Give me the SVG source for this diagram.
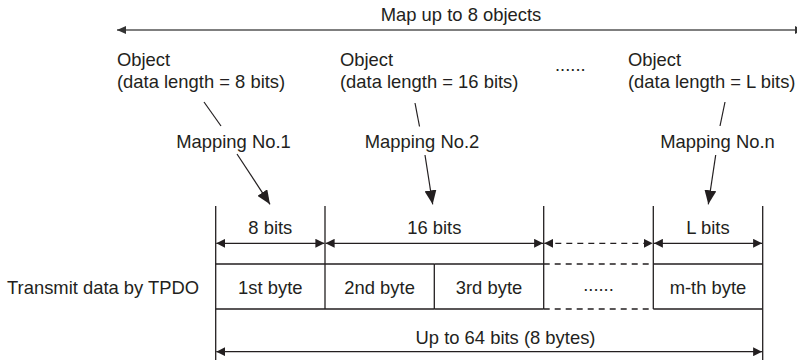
<svg xmlns="http://www.w3.org/2000/svg" width="797" height="360" viewBox="0 0 797 360">
<style>
text{font-family:"Liberation Sans",Arial,sans-serif;font-size:18.4px;fill:#231f20}
.m{text-anchor:middle}
.ln{stroke:#231f20;stroke-width:1.3;fill:none}
.dim{stroke:#231f20;stroke-width:1.2;fill:none}
.dash{stroke-dasharray:6 5}
.top{stroke:#555;stroke-width:1.6;fill:none}
</style>
<defs>
<marker id="ah" markerUnits="userSpaceOnUse" markerWidth="9" markerHeight="9" refX="8" refY="4" orient="auto-start-reverse" viewBox="0 0 8 8"><path d="M0,0 L8,4 L0,8 z" fill="#231f20"/></marker>
<marker id="ahg" markerUnits="userSpaceOnUse" markerWidth="9" markerHeight="9" refX="8" refY="3.5" orient="auto-start-reverse" viewBox="0 0 8 7"><path d="M0,0 L8,3.5 L0,7 z" fill="#333"/></marker>
<marker id="ahb" markerUnits="userSpaceOnUse" markerWidth="14" markerHeight="12" refX="13" refY="5.5" orient="auto" viewBox="0 0 13 11"><path d="M0,0 L13,5.5 L0,11 z" fill="#231f20"/></marker>
</defs>

<g id="map-label"><text class="m" x="461" y="21">Map up to 8 objects</text></g>

<g id="object1"><text x="117" y="66">Object</text><text x="117" y="88">(data length = 8 bits)</text></g>
<g id="object2"><text x="340" y="66">Object</text><text x="340" y="88">(data length = 16 bits)</text></g>
<g id="ellipsis-top"><text x="555" y="71">......</text></g>
<g id="objectL"><text x="628" y="66">Object</text><text x="628" y="88">(data length = L bits)</text></g>

<g id="mapping1"><text class="m" x="233.5" y="148">Mapping No.1</text></g>
<g id="mapping2"><text class="m" x="422" y="148">Mapping No.2</text></g>
<g id="mappingn"><text class="m" x="717.5" y="148">Mapping No.n</text></g>

<g id="tpdo-label"><text x="7" y="294">Transmit data by TPDO</text></g>

<g id="frame">
<line class="ln" x1="215.7" y1="206" x2="215.7" y2="360"/>
<line class="ln" x1="762.7" y1="206" x2="762.7" y2="360"/>
<line class="ln" x1="325" y1="206" x2="325" y2="309"/>
<line class="ln" x1="543.7" y1="206" x2="543.7" y2="309"/>
<line class="ln" x1="653.3" y1="206" x2="653.3" y2="309"/>
</g>

<g id="cell1"><path class="ln" d="M215.7,264 H325 M215.7,309 H325"/><text class="m" x="270.3" y="294">1st byte</text></g>
<g id="cell2"><path class="ln" d="M325,264 H434.3 M325,309 H434.3"/><text class="m" x="379.6" y="294">2nd byte</text></g>
<g id="cell3"><path class="ln" d="M434.3,264 H543.7 M434.3,309 H543.7 M434.3,264 V309"/><text class="m" x="489" y="294">3rd byte</text></g>
<g id="cell4"><path class="ln dash" d="M543.7,264 H653.3 M543.7,309 H653.3"/><text class="m" x="598.5" y="291">......</text></g>
<g id="cellm"><path class="ln" d="M653.3,264 H762.7 M653.3,309 H762.7"/><text class="m" x="708" y="294">m-th byte</text></g>

<g id="len8"><text class="m" x="270.3" y="234">8 bits</text></g>
<g id="len16"><text class="m" x="434.3" y="234">16 bits</text></g>
<g id="lenL"><text class="m" x="708" y="234">L bits</text></g>
<g id="total"><text class="m" x="505.5" y="344">Up to 64 bits (8 bytes)</text></g>

<g id="connectors">
<line class="top" x1="117" y1="30" x2="804" y2="30" marker-start="url(#ahg)" marker-end="url(#ahg)"/>
<line class="dim" x1="204" y1="102" x2="221" y2="126"/>
<line class="dim" x1="415" y1="103" x2="419.5" y2="126.5"/>
<line class="dim" x1="725" y1="102" x2="720" y2="126"/>
<line class="dim" x1="237" y1="154" x2="270" y2="204.3" marker-end="url(#ahb)"/>
<line class="dim" x1="425" y1="155" x2="432.7" y2="204.3" marker-end="url(#ahb)"/>
<line class="dim" x1="715.7" y1="155" x2="708.3" y2="204.3" marker-end="url(#ahb)"/>
<line class="dim" x1="216.3" y1="243.3" x2="324.4" y2="243.3" marker-start="url(#ah)" marker-end="url(#ah)"/>
<line class="dim" x1="325.6" y1="243.3" x2="543.1" y2="243.3" marker-start="url(#ah)" marker-end="url(#ah)"/>
<line class="dim dash" x1="544.3" y1="243.3" x2="652.7" y2="243.3" marker-start="url(#ah)" marker-end="url(#ah)"/>
<line class="dim" x1="653.9" y1="243.3" x2="762.1" y2="243.3" marker-start="url(#ah)" marker-end="url(#ah)"/>
<line class="dim" x1="216.3" y1="351.7" x2="762.1" y2="351.7" marker-start="url(#ah)" marker-end="url(#ah)"/>
</g>
</svg>
